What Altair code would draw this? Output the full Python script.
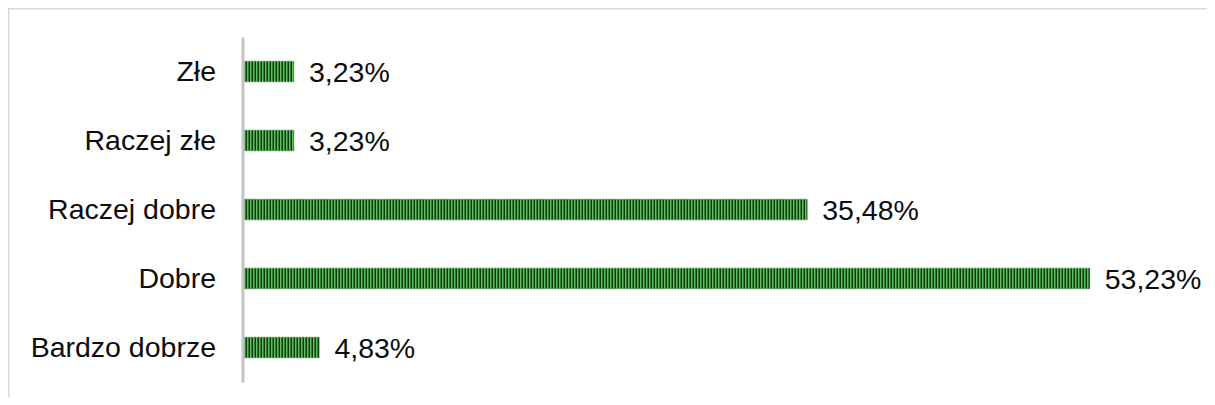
import altair as alt
import pandas as pd

categories = ["Złe", "Raczej złe", "Raczej dobre", "Dobre", "Bardzo dobrze"]
values = [3.23, 3.23, 35.48, 53.23, 4.83]
value_labels = ["3,23%", "3,23%", "35,48%", "53,23%", "4,83%"]

df = pd.DataFrame({"cat": categories, "val": values, "lab": value_labels, "zero": [0] * len(values)})

W, H = 1199, 389
FONT = "Liberation Sans"
FS = 28.5

x_scale = alt.Scale(domain=[0, 60], range=[234.5, 234.5 + 955])
y_scale = alt.Scale(domain=categories, range=[29, 374], paddingInner=0, paddingOuter=0)


def y_enc():
    return alt.Y(
        "cat:N",
        scale=y_scale,
        sort=categories,
        axis=alt.Axis(
            title=None,
            offset=-234.5,
            domainColor="#c3c3c3",
            domainWidth=3,
            ticks=False,
            tickSize=0,
            grid=False,
            labelPadding=27,
            labelFont=FONT,
            labelFontSize=FS,
            labelColor="#0d0d0d",
            labelLimit=0,
            zindex=1,
        ),
    )


base = alt.Chart(df)

bars = base.mark_bar(size=21, color="#5cbf5c", stroke="#9ab59a", strokeWidth=0.6).encode(
    x=alt.X("val:Q", scale=x_scale, axis=None),
    y=y_enc(),
)

stripes = base.mark_rule(strokeWidth=20, color="#0d3d0d", strokeDash=[1.5, 1.5], strokeCap="butt").encode(
    x=alt.X("zero:Q", scale=x_scale, axis=None),
    x2="val:Q",
    y=y_enc(),
)

texts = base.mark_text(align="left", baseline="middle", dx=15, dy=1, font=FONT, fontSize=FS, color="#0d0d0d").encode(
    x=alt.X("val:Q", scale=x_scale, axis=None),
    y=y_enc(),
    text="lab:N",
)

frame_df = pd.DataFrame({"a": [0]})
top_line = alt.Chart(frame_df).mark_rule(color="#d9d9d9", strokeWidth=1.5).encode(
    x=alt.value(0), x2=alt.value(W), y=alt.value(0.75)
)
left_line = alt.Chart(frame_df).mark_rule(color="#d9d9d9", strokeWidth=1.5).encode(
    x=alt.value(0.75), y=alt.value(0), y2=alt.value(H)
)

chart = (
    alt.layer(top_line, left_line, bars, stripes, texts)
    .properties(width=W, height=H, autosize=alt.AutoSizeParams(type="none"), padding=0)
    .configure_view(stroke=None)
)

chart.save("out.html", embed_options={"renderer": "svg", "actions": False})
